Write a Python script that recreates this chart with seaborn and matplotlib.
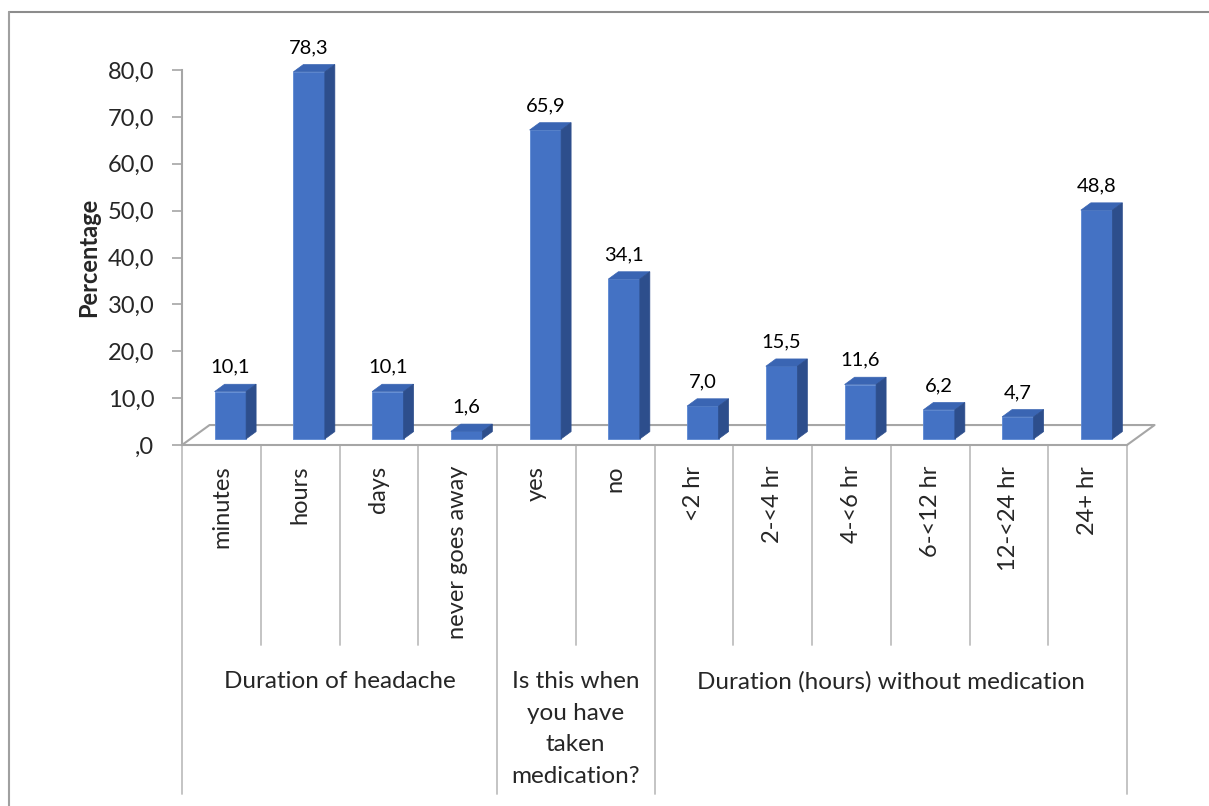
import pandas as pd
import seaborn as sns
import matplotlib.pyplot as plt
from matplotlib.patches import Polygon
from matplotlib.lines import Line2D
from matplotlib.transforms import blended_transform_factory

# data
categories = ["minutes", "hours", "days", "never goes away", "yes", "no",
              "<2 hr", "2-<4 hr", "4-<6 hr", "6-<12 hr", "12-<24 hr", "24+ hr"]
values = [10.1, 78.3, 10.1, 1.6, 65.9, 34.1, 7.0, 15.5, 11.6, 6.2, 4.7, 48.8]
groups = ["Duration of headache",
          "Is this when\nyou have\ntaken\nmedication?",
          "Duration (hours) without medication"]
group_sizes = [4, 2, 6]
y_ticks = [0, 10, 20, 30, 40, 50, 60, 70, 80]

df = pd.DataFrame({"category": categories, "value": values})

sns.set_theme(style="white")
plt.rcParams['font.family'] = ['Lato', 'DejaVu Sans']

W, H = 1209, 806
fig = plt.figure(figsize=(W / 100, H / 100), dpi=100)
ax = fig.add_axes([182 / W, 1 - 445 / H, (1127 - 182) / W, (445 - 70) / H])

front_c = "#4472C4"
top_c = "#3A65B3"
side_c = "#2D4E8C"
grid_c = "#A6A6A6"

sns.barplot(data=df, x="category", y="value", ax=ax, color=front_c,
            width=0.40, saturation=1, edgecolor="#5B87D2", linewidth=0.6,
            zorder=4)

# fake 3d: shift bars, add top and side faces
shift = 0.114
lift = 1.3
dx, dy = 0.127, 1.56
for i, p in enumerate(ax.patches):
    p.set_x(p.get_x() + shift)
    p.set_y(lift)
    x0 = p.get_x()
    x1 = x0 + p.get_width()
    top = lift + p.get_height()
    ax.add_patch(Polygon([(x0, top), (x1, top), (x1 + dx, top + dy), (x0 + dx, top + dy)],
                         closed=True, facecolor=top_c, edgecolor=top_c, lw=0.5,
                         zorder=4, clip_on=False))
    ax.add_patch(Polygon([(x1, lift), (x1 + dx, lift + dy), (x1 + dx, top + dy), (x1, top)],
                         closed=True, facecolor=side_c, edgecolor=side_c, lw=0.5,
                         zorder=4, clip_on=False))
    lab = f"{values[i]:.1f}".replace(".", ",")
    ax.text((x0 + x1) / 2, top + dy + 1.8, lab, ha="center", va="bottom",
            fontsize=14.5, color="black")

# floor
fx, fy = 0.35, 4.26
ax.plot([-0.5, -0.5 + fx, 11.5 + fx, 11.5], [0, fy, fy, 0], color=grid_c,
        lw=1.5, zorder=2, clip_on=False)

ax.set_xlim(-0.5, 11.5)
ax.set_ylim(0, 80)
ax.set_yticks(y_ticks)
ax.set_yticklabels([("%.1f" % v).replace(".", ",").lstrip("0") if v == 0 else
                    ("%.1f" % v).replace(".", ",") for v in y_ticks], fontsize=17)
ax.tick_params(axis="y", left=True, length=7, width=1.2, color=grid_c, pad=13)
ax.set_xticks(range(len(categories)))
ax.set_xticklabels(categories, rotation=90, fontsize=17, va="top")
ax.tick_params(axis="x", bottom=False, pad=9)
ax.set_xlabel("")
ax.set_ylabel("Percentage", fontsize=17, fontweight="bold", labelpad=5)

for s in ["top", "right"]:
    ax.spines[s].set_visible(False)
for s in ["left", "bottom"]:
    ax.spines[s].set_color(grid_c)
    ax.spines[s].set_linewidth(1.5)

# category separators under the axis
trans = blended_transform_factory(ax.transData, fig.transFigure)
bounds = [0]
for g in group_sizes:
    bounds.append(bounds[-1] + g)
for b in range(len(categories) + 1):
    y_end = 794 if b in bounds else 645
    ax.add_line(Line2D([b - 0.5, b - 0.5], [1 - 445 / H, 1 - y_end / H],
                       transform=trans, color="#BFBFBF", lw=1.3, clip_on=False))

for k, g in enumerate(groups):
    xc = (bounds[k] + bounds[k + 1]) / 2 - 0.5
    ax.text(xc, 1 - 671 / H, g, transform=trans, ha="center", va="top",
            fontsize=17.5, linespacing=1.62, multialignment="center")

# chart area border
fig.add_artist(Line2D([9 / W, 1], [1 - 12 / H, 1 - 12 / H], transform=fig.transFigure,
                      color="#8C8C8C", lw=1.5))
fig.add_artist(Line2D([9 / W, 9 / W], [0, 1 - 12 / H], transform=fig.transFigure,
                      color="#A0A0A0", lw=1.5))

fig.savefig("out.png", dpi=100)
